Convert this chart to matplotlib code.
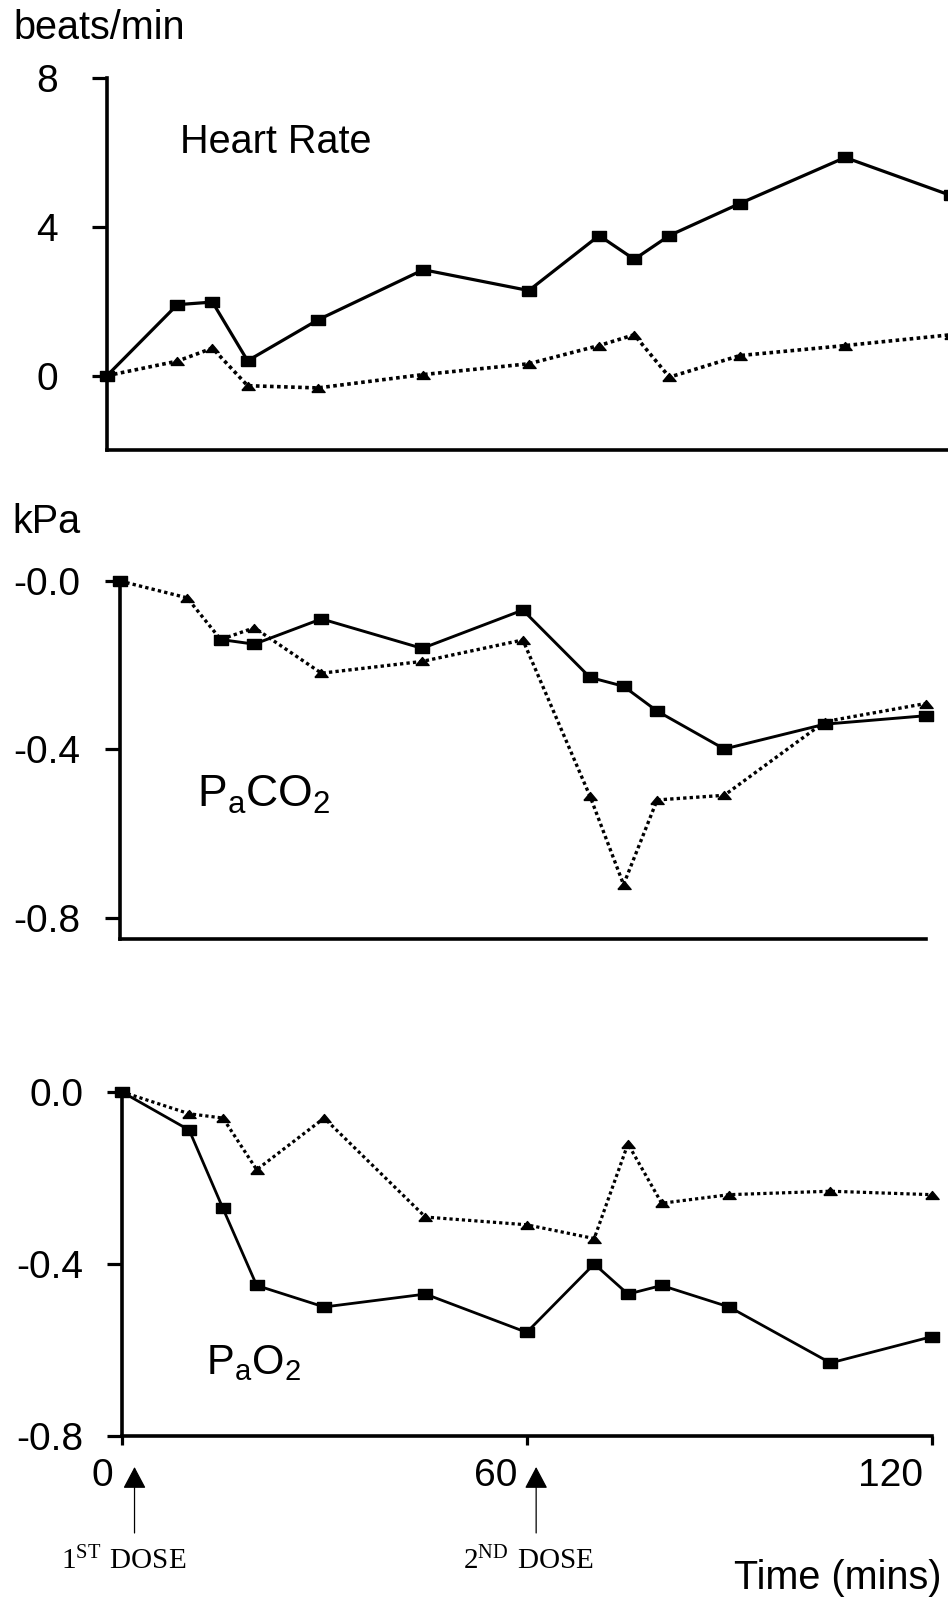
"""
Heart rate, PaCO2 and PaO2 change from baseline after two doses (three stacked panels).
"""

import matplotlib

matplotlib.use("Agg")   # headless backend
import matplotlib.pyplot as plt
import numpy as np
from matplotlib.transforms import ScaledTranslation

W, H = 948, 1602   # output size in pixels at dpi=100

plt.rcParams["font.family"] = "Liberation Sans"
plt.rcParams["mathtext.fontset"] = "custom"
plt.rcParams["mathtext.rm"] = "Liberation Serif"   # dose labels
plt.rcParams["mathtext.sf"] = "Liberation Sans"    # gas labels

# ---- data (change from baseline) ----
time_min = [0, 10, 15, 20, 30, 45, 60, 70, 75, 80, 90, 105, 120]

hr_solid = [0, 1.91, 1.98, 0.40, 1.50, 2.85, 2.29, 3.77, 3.13, 3.77, 4.63, 5.87, 4.85]
hr_dotted = [0, 0.39, 0.74, -0.27, -0.33, 0.03, 0.32, 0.81, 1.10, -0.04, 0.54, 0.81, 1.10]

paco2_solid = [0, np.nan, -0.139, -0.150, -0.090, -0.160, -0.069,
               -0.229, -0.250, -0.309, -0.399, -0.340, -0.320]
paco2_dotted = [0, -0.040, -0.139, -0.111, -0.219, -0.191, -0.140,
                -0.511, -0.721, -0.520, -0.509, -0.334, -0.291]

pao2_solid = [0, -0.089, -0.271, -0.450, -0.500, -0.470, -0.559,
              -0.400, -0.470, -0.450, -0.500, -0.630, -0.569]
pao2_dotted = [0, -0.051, -0.061, -0.181, -0.061, -0.291, -0.309,
               -0.341, -0.121, -0.259, -0.239, -0.231, -0.239]

hr_ticks, hr_labels = [0, 4, 8], ["0", "4", "8"]
paco2_ticks, paco2_labels = [-0.8, -0.4, 0.0], ["-0.8", "-0.4", "-0.0"]
pao2_ticks, pao2_labels = [-0.8, -0.4, 0.0], ["-0.8", "-0.4", "0.0"]
time_ticks, time_labels = [0, 60, 120], ["0", "60", "120"]

dose_arrow_t = [1.9, 61.4]
dose_label_t = [0.3, 60.2]
dose_labels = [r"$\mathrm{1^{ST}\ DOSE}$", r"$\mathrm{2^{ND}\ DOSE}$"]

# flat rectangle / flat triangle markers like the original
RECT = [(-1, -0.72), (1, -0.72), (1, 0.72), (-1, 0.72), (-1, -0.72)]
TRI = [(-1, -0.6), (1, -0.6), (0, 0.6), (-1, -0.6)]


def px_box(left, top, right, bottom):
    """pixel box -> figure fraction [l, b, w, h]"""
    return [left / W, 1 - bottom / H, (right - left) / W, (bottom - top) / H]


def draw_series(ax, solid, dotted, lw):
    ax.plot(time_min, dotted, linestyle=(0, (1, 0.95)), color="black", lw=lw + 0.3,
            marker=TRI, markersize=9.5, clip_on=False, zorder=2)
    ax.plot(time_min, solid, "-", color="black", lw=lw,
            marker=RECT, markersize=9.5, clip_on=False, zorder=3)


def style_axes(ax, ticks, labels, pad):
    for side in ("top", "right"):
        ax.spines[side].set_visible(False)
    for side in ("left", "bottom"):
        ax.spines[side].set_linewidth(2.6)
    ax.set_yticks(ticks)
    ax.set_yticklabels(labels)
    ax.tick_params(axis="y", direction="out", length=10.5, width=2.3,
                   pad=pad, labelsize=28)
    ax.tick_params(axis="x", bottom=False, labelbottom=False)
    ax.patch.set_visible(False)


fig = plt.figure(figsize=(W / 100, H / 100), dpi=100)

# panel 1: heart rate (runs past the right edge like the source)
ax1 = fig.add_axes(px_box(107, 78.3, 107 + 120 * 7.03, 450))
draw_series(ax1, hr_solid, hr_dotted, 2.3)
ax1.set_xlim(0, 120)
ax1.set_ylim(-2, 8)
style_axes(ax1, hr_ticks, hr_labels, 25)

# panel 2: PaCO2
ax2 = fig.add_axes(px_box(120, 581, 925.7, 939.3))
draw_series(ax2, paco2_solid, paco2_dotted, 2.1)
ax2.set_xlim(0, 120)
ax2.set_ylim(-0.851, 0.0)
style_axes(ax2, paco2_ticks, paco2_labels, 18)

# panel 3: PaO2 with the time axis
ax3 = fig.add_axes(px_box(121.7, 1091.8, 931.7, 1436.1))
draw_series(ax3, pao2_solid, pao2_dotted, 2.0)
ax3.set_xlim(0, 120)
ax3.set_ylim(-0.8, 0.0)
style_axes(ax3, pao2_ticks, pao2_labels, 17)
ax3.set_xticks(time_ticks)
ax3.set_xticklabels(time_labels)
ax3.tick_params(axis="x", bottom=True, labelbottom=True, direction="out",
                length=6.5, width=2.3, pad=9, labelsize=28)
shift = ScaledTranslation(-9 / 100, 0, fig.dpi_scale_trans)
for lab in ax3.get_xticklabels():
    lab.set_horizontalalignment("right")
    lab.set_transform(lab.get_transform() + shift)

# dose arrows and labels
xt = ax3.get_xaxis_transform()
for t_arrow, t_lab, text in zip(dose_arrow_t, dose_label_t, dose_labels):
    ax3.annotate("", xy=(t_arrow, -0.0897), xytext=(t_arrow, -0.2814), xycoords=xt,
                 annotation_clip=False,
                 arrowprops=dict(arrowstyle="-|>,head_length=0.68,head_width=0.36",
                                 color="black", lw=0.9, shrinkA=0, shrinkB=0,
                                 mutation_scale=20))
    ax3.text(t_lab, -0.388, text, transform=xt, ha="center", va="baseline",
             fontsize=21, clip_on=False)

# free text
fig.text(13 / W, 1 - 39 / H, "beats/min", fontsize=28.5, va="baseline")
fig.text(12 / W, 1 - 533 / H, "kPa", fontsize=28.5, va="baseline")
fig.text(180 / W, 1 - 153 / H, "Heart Rate", fontsize=28.5, va="baseline")
fig.text(197 / W, 1 - 807 / H, r"$\mathsf{P_aCO_2}$", fontsize=32, va="baseline")
fig.text(206 / W, 1 - 1374 / H, r"$\mathsf{P_aO_2}$", fontsize=30, va="baseline")
fig.text(941 / W, 1 - 1589 / H, "Time (mins)", fontsize=28.5, ha="right", va="baseline")

fig.savefig("out.png", dpi=100)
